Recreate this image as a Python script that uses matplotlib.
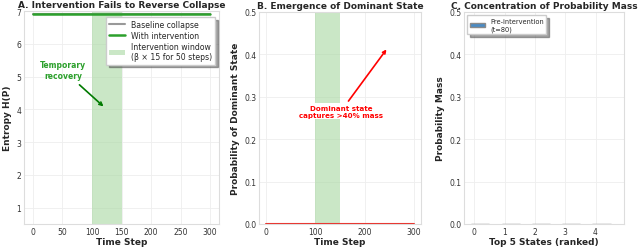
import matplotlib
matplotlib.use("Agg")
import matplotlib.pyplot as plt
import seaborn as sns
import numpy as np

sns.set_style("whitegrid")
plt.rcParams['font.family'] = ['DejaVu Sans']

# data
time_steps = [0, 50, 100, 150, 200, 250, 300]
entropy_baseline = [6.9, 6.9, 6.9, 6.9, 6.9, 6.9, 6.9]
entropy_intervention = [6.9, 6.9, 6.9, 6.9, 6.9, 6.9, 6.9]
dominant_prob = [0.001, 0.001, 0.001, 0.001, 0.001, 0.001, 0.001]
window = (100, 150)

state_ranks = [0, 1, 2, 3, 4]
mass_pre = [0.001, 0.001, 0.001, 0.001, 0.001]
mass_during = [0.001, 0.001, 0.001, 0.001, 0.001]
mass_post = [0.001, 0.001, 0.001, 0.001, 0.001]
mass_final = [0.0, 0.0, 0.0, 0.0, 0.0]

green = '#2ca02c'
red = '#e8302a'
span_color = '#a8d8a0'
tick_fs = 5.5
label_fs = 6.5
title_fs = 6.5

fig = plt.figure(figsize=(6.4, 2.51), dpi=100)
axA = fig.add_axes([24/640, 1 - 225/251, 195/640, 213/251])
axB = fig.add_axes([259/640, 1 - 225/251, 162/640, 212/251])
axC = fig.add_axes([464/640, 1 - 225/251, 160/640, 212/251])

for ax in (axA, axB, axC):
    ax.tick_params(labelsize=tick_fs, colors='#333333', pad=2, length=0)
    ax.grid(color='#eeeeee', linewidth=0.6)
    for s in ax.spines.values():
        s.set_color('#dddddd')
        s.set_linewidth(0.8)

# Panel A
axA.axvspan(*window, color=span_color, alpha=0.6, lw=0, label='Intervention window\n(β × 15 for 50 steps)')
axA.plot(time_steps, entropy_baseline, color='#999999', lw=1.5, label='Baseline collapse')
axA.plot(time_steps, entropy_intervention, color=green, lw=1.8, label='With intervention')
axA.set_ylim(0.5, 7)
axA.set_yticks([1, 2, 3, 4, 5, 6, 7])
axA.set_xlim(-15, 315)
axA.set_xticks([0, 50, 100, 150, 200, 250, 300])
axA.set_xlabel('Time Step', fontsize=label_fs, fontweight='bold', labelpad=1)
axA.set_ylabel('Entropy H(P)', fontsize=label_fs, fontweight='bold', labelpad=3)
axA.set_title('A. Intervention Fails to Reverse Collapse', fontsize=title_fs, fontweight='bold', pad=2.8)
axA.annotate('Temporary\nrecovery', xy=(123, 4.03), xytext=(51, 5.2),
             ha='center', va='center', fontsize=5.5, fontweight='bold', color=green,
             arrowprops=dict(arrowstyle='->', color='#007a00', lw=1.2))
h, l = axA.get_legend_handles_labels()
axA.legend([h[1], h[2], h[0]], [l[1], l[2], l[0]], loc='upper right', fontsize=5.6,
           frameon=True, shadow=True, fancybox=False, borderpad=0.4, labelspacing=0.25,
           handlelength=2.0, bbox_to_anchor=(1.0, 0.99))

# Panel B
axB.axvspan(*window, color=span_color, alpha=0.6, lw=0)
axB.plot(time_steps, dominant_prob, color=red, lw=1.5)
axB.set_ylim(0, 0.5)
axB.set_xlim(-15, 315)
axB.set_xticks([0, 100, 200, 300])
axB.set_xlabel('Time Step', fontsize=label_fs, fontweight='bold', labelpad=1)
axB.set_ylabel('Probability of Dominant State', fontsize=label_fs, fontweight='bold', labelpad=3)
axB.set_title('B. Emergence of Dominant State', fontsize=title_fs, fontweight='bold', pad=2.8)
axB.annotate('Dominant state\ncaptures >40% mass', xy=(248, 0.417), xytext=(152, 0.266),
             ha='center', va='center', fontsize=5.1, fontweight='bold', color='red',
             bbox=dict(boxstyle='square,pad=0.2', fc='white', ec='none'),
             arrowprops=dict(arrowstyle='->', color='red', lw=1.2))

# Panel C
x = np.array(state_ranks)
w = 0.2
axC.bar(x, mass_pre, w, color='#4a8bc4', edgecolor='#8a8a8a', lw=1.0, label='Pre-intervention\n(t=80)')
axC.bar(x + w, mass_during, w, color='#4a8bc4', edgecolor='#8a8a8a', lw=1.0)
axC.bar(x + 2 * w, mass_post, w, color='#4a8bc4', edgecolor='#8a8a8a', lw=1.0)
axC.bar(x + 3 * w, mass_final, w, color='#4a8bc4', lw=0)
axC.set_ylim(0, 0.5)
axC.set_xticks(state_ranks)
axC.set_xlim(-0.34, 4.94)
axC.set_xlabel('Top 5 States (ranked)', fontsize=label_fs, fontweight='bold', labelpad=1)
axC.set_ylabel('Probability Mass', fontsize=label_fs, fontweight='bold', labelpad=3)
axC.set_title('C. Concentration of Probability Mass', fontsize=title_fs, fontweight='bold', pad=2.8)
axC.legend(loc='upper left', fontsize=4.8, frameon=True, shadow=True, fancybox=False,
           borderpad=0.4, handlelength=2.2, labelspacing=0.2)

fig.savefig('out.png', dpi=100)
